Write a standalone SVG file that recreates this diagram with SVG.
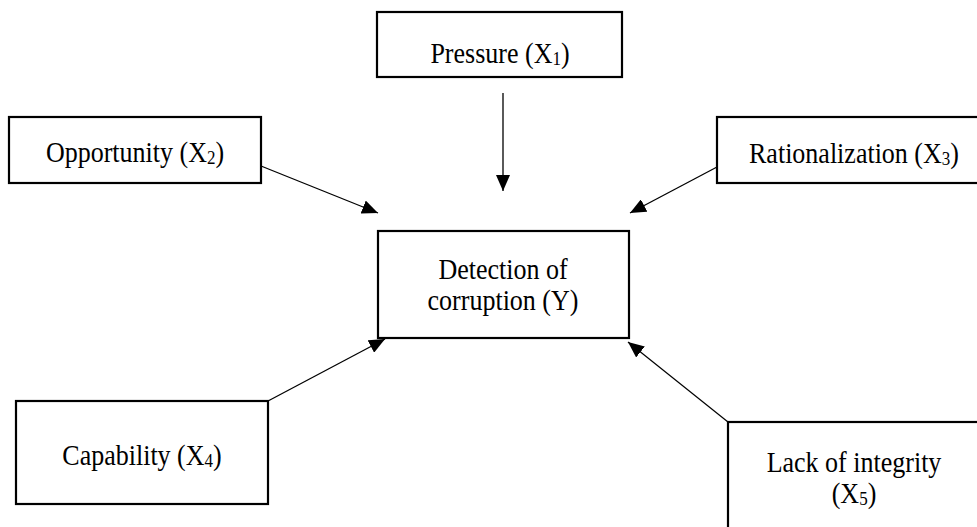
<svg xmlns="http://www.w3.org/2000/svg" width="977" height="527" viewBox="0 0 977 527">
<style>
.box{fill:#fff;stroke:#000;stroke-width:2.2}
.t{font-family:"Liberation Serif","Times New Roman",serif;font-size:26px;fill:#000;text-anchor:middle}
.sub{font-size:17px}
.c{stroke:#000;stroke-width:1.3;fill:none}
</style>
<defs>
<marker id="ah" markerUnits="userSpaceOnUse" markerWidth="18" markerHeight="14" refX="16" refY="7" orient="auto">
<path d="M0,0 L16,7 L0,14 Z" fill="#000"/>
</marker>
</defs>
<rect width="977" height="527" fill="#fff"/>
<g id="connectors">
<line class="c" x1="503" y1="93" x2="503" y2="191" marker-end="url(#ah)"/>
<line class="c" x1="261" y1="166" x2="378" y2="213" marker-end="url(#ah)"/>
<line class="c" x1="717" y1="167" x2="630" y2="213" marker-end="url(#ah)"/>
<line class="c" x1="268" y1="401" x2="385" y2="339" marker-end="url(#ah)"/>
<line class="c" x1="728" y1="422" x2="628" y2="342" marker-end="url(#ah)"/>
</g>
<g id="pressure">
<rect class="box" x="377" y="12" width="245" height="65"/>
<text class="t" transform="translate(500,63) scale(1,1.1)">Pressure (X<tspan class="sub" dy="2">1</tspan><tspan dy="-2">)</tspan></text>
</g>
<g id="opportunity">
<rect class="box" x="9" y="117" width="252" height="66"/>
<text class="t" transform="translate(135,162) scale(1,1.1)">Opportunity (X<tspan class="sub" dy="2">2</tspan><tspan dy="-2">)</tspan></text>
</g>
<g id="rationalization">
<rect class="box" x="717" y="117" width="274" height="66"/>
<text class="t" transform="translate(854,163) scale(1,1.1)">Rationalization (X<tspan class="sub" dy="2">3</tspan><tspan dy="-2">)</tspan></text>
</g>
<g id="detection">
<rect class="box" x="378" y="231" width="251" height="107"/>
<text class="t" transform="translate(503,279) scale(1,1.1)">Detection of</text>
<text class="t" transform="translate(503,310) scale(1,1.1)">corruption (Y)</text>
</g>
<g id="capability">
<rect class="box" x="16" y="401" width="252" height="103"/>
<text class="t" transform="translate(142,465) scale(1,1.1)">Capability (X<tspan class="sub" dy="2">4</tspan><tspan dy="-2">)</tspan></text>
</g>
<g id="integrity">
<rect class="box" x="728" y="422" width="260" height="120"/>
<text class="t" transform="translate(854,472) scale(1,1.1)">Lack of integrity</text>
<text class="t" transform="translate(854,503) scale(1,1.1)">(X<tspan class="sub" dy="2">5</tspan><tspan dy="-2">)</tspan></text>
</g>
</svg>
